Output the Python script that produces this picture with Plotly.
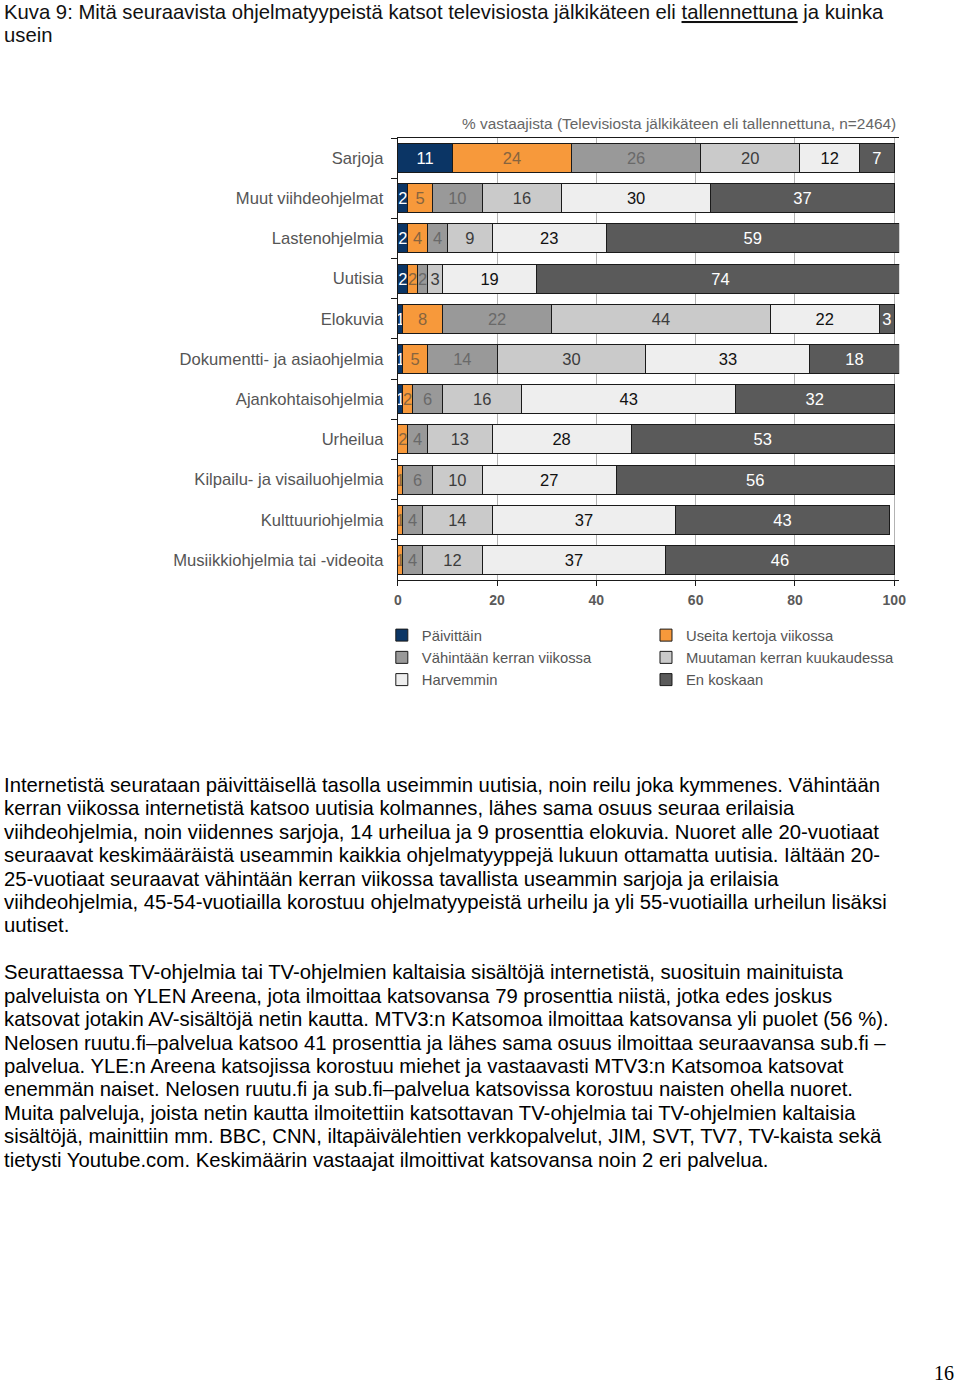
import plotly.graph_objects as go

categories = [
    "Sarjoja",
    "Muut viihdeohjelmat",
    "Lastenohjelmia",
    "Uutisia",
    "Elokuvia",
    "Dokumentti- ja asiaohjelmia",
    "Ajankohtaisohjelmia",
    "Urheilua",
    "Kilpailu- ja visailuohjelmia",
    "Kulttuuriohjelmia",
    "Musiikkiohjelmia tai -videoita",
]

series_names = [
    "Päivittäin",
    "Useita kertoja viikossa",
    "Vähintään kerran viikossa",
    "Muutaman kerran kuukaudessa",
    "Harvemmin",
    "En koskaan",
]

paivittain = [11, 2, 2, 2, 1, 1, 1, 0, 0, 0, 0]
useita = [24, 5, 4, 2, 8, 5, 2, 2, 1, 1, 1]
vahintaan = [26, 10, 4, 2, 22, 14, 6, 4, 6, 4, 4]
muutaman = [20, 16, 9, 3, 44, 30, 16, 13, 10, 14, 12]
harvemmin = [12, 30, 23, 19, 22, 33, 43, 28, 27, 37, 37]
en_koskaan = [7, 37, 59, 74, 3, 18, 32, 53, 56, 43, 46]

series_values = [paivittain, useita, vahintaan, muutaman, harvemmin, en_koskaan]
x_ticks = [0, 20, 40, 60, 80, 100]

title_lines = [
    "Kuva 9: Mitä seuraavista ohjelmatyypeistä katsot televisiosta jälkikäteen eli <u>tallennettuna</u> ja kuinka",
    "usein",
]
subtitle = "% vastaajista (Televisiosta jälkikäteen eli tallennettuna, n=2464)"

para1_lines = [
    "Internetistä seurataan päivittäisellä tasolla useimmin uutisia, noin reilu joka kymmenes. Vähintään",
    "kerran viikossa internetistä katsoo uutisia kolmannes, lähes sama osuus seuraa erilaisia",
    "viihdeohjelmia, noin viidennes sarjoja, 14 urheilua ja 9 prosenttia elokuvia. Nuoret alle 20-vuotiaat",
    "seuraavat keskimääräistä useammin kaikkia ohjelmatyyppejä lukuun ottamatta uutisia. Iältään 20-",
    "25-vuotiaat seuraavat vähintään kerran viikossa tavallista useammin sarjoja ja erilaisia",
    "viihdeohjelmia, 45-54-vuotiailla korostuu ohjelmatyypeistä urheilu ja yli 55-vuotiailla urheilun lisäksi",
    "uutiset.",
]
para2_lines = [
    "Seurattaessa TV-ohjelmia tai TV-ohjelmien kaltaisia sisältöjä internetistä, suosituin mainituista",
    "palveluista on YLEN Areena, jota ilmoittaa katsovansa 79 prosenttia niistä, jotka edes joskus",
    "katsovat jotakin AV-sisältöjä netin kautta. MTV3:n Katsomoa ilmoittaa katsovansa yli puolet (56 %).",
    "Nelosen ruutu.fi–palvelua katsoo 41 prosenttia ja lähes sama osuus ilmoittaa seuraavansa sub.fi –",
    "palvelua. YLE:n Areena katsojissa korostuu miehet ja vastaavasti MTV3:n Katsomoa katsovat",
    "enemmän naiset. Nelosen ruutu.fi ja sub.fi–palvelua katsovissa korostuu naisten ohella nuoret.",
    "Muita palveluja, joista netin kautta ilmoitettiin katsottavan TV-ohjelmia tai TV-ohjelmien kaltaisia",
    "sisältöjä, mainittiin mm. BBC, CNN, iltapäivälehtien verkkopalvelut, JIM, SVT, TV7, TV-kaista sekä",
    "tietysti Youtube.com. Keskimäärin vastaajat ilmoittivat katsovansa noin 2 eri palvelua.",
]
page_number = "16"

colors = ["#0b3565", "#f7993b", "#999999", "#cacaca", "#eeeeee", "#5a5a5a"]
text_colors = ["#ffffff", "#86643f", "#696969", "#3c3c3c", "#111111", "#ffffff"]
legend_ids = ["legend", "legend2", "legend", "legend2", "legend", "legend2"]

FONT = "Liberation Sans, Arial, Helvetica, sans-serif"
REF_W, H = 960, 1387
W = 968


def px_x(p):
    return p / REF_W


def px_y(p):
    return 1 - p / H


fig = go.Figure()
for name, vals, col, tcol, lg in zip(series_names, series_values, colors, text_colors, legend_ids):
    fig.add_trace(go.Bar(
        y=categories,
        x=vals,
        name=name,
        orientation="h",
        marker=dict(color=col, line=dict(color="#1a1a1a", width=1)),
        text=[str(v) if v else "" for v in vals],
        textposition="inside",
        insidetextanchor="middle",
        textangle=0,
        constraintext="none",
        textfont=dict(family=FONT, size=16.5, color=tcol),
        legend=lg,
        hoverinfo="skip",
    ))

fig.update_layout(
    width=W,
    height=H,
    autosize=False,
    margin=dict(l=0, r=0, t=0, b=0),
    paper_bgcolor="white",
    plot_bgcolor="white",
    barmode="stack",
    bargap=0.28,
    font=dict(family=FONT, color="#555555"),
    xaxis=dict(
        domain=[px_x(395), px_x(898)],
        range=[0, 101],
        tickvals=x_ticks,
        ticktext=[str(t) for t in x_ticks],
        showgrid=True,
        gridcolor="#b3b3b3",
        gridwidth=1,
        zeroline=False,
        showline=True,
        linecolor="#1a1a1a",
        linewidth=1,
        mirror=True,
        ticks="outside",
        ticklen=5,
        tickcolor="#1a1a1a",
        tickfont=dict(family=FONT, size=14, color="#5a5a5a", weight="bold"),
        ticklabelstandoff=2,
    ),
    yaxis=dict(
        domain=[px_y(580), px_y(138)],
        type="category",
        autorange="reversed",
        showgrid=False,
        zeroline=False,
        showline=True,
        linecolor="#1a1a1a",
        linewidth=1,
        ticks="outside",
        tickson="boundaries",
        ticklen=6,
        tickcolor="#1a1a1a",
        tickfont=dict(family=FONT, size=16.6, color="#555555"),
        ticklabelstandoff=10,
    ),
    legend=dict(
        x=px_x(379), y=px_y(619), xanchor="left", yanchor="top",
        orientation="v", traceorder="normal",
        font=dict(family=FONT, size=14.8, color="#555555"),
        bgcolor="rgba(0,0,0,0)", borderwidth=0,
    ),
    legend2=dict(
        x=px_x(644), y=px_y(619), xanchor="left", yanchor="top",
        orientation="v", traceorder="normal",
        font=dict(family=FONT, size=14.8, color="#555555"),
        bgcolor="rgba(0,0,0,0)", borderwidth=0,
    ),
    showlegend=True,
)


def add_lines(lines, centers, size, color="#000000"):
    for txt, cy in zip(lines, centers):
        fig.add_annotation(text=txt, x=0, y=px_y(cy), xref="paper", yref="paper",
                           xanchor="left", yanchor="middle", align="left", showarrow=False,
                           xshift=-2,
                           font=dict(family=FONT, size=size, color=color))


title_centers = [12, 35]
para1_centers = [785, 808, 832, 855, 879, 902, 925]
para2_centers = [972, 996, 1019, 1043, 1066, 1089, 1113, 1136, 1160]

add_lines(title_lines, title_centers, 20.3, "#111111")
add_lines(para1_lines, para1_centers, 20.3)
add_lines(para2_lines, para2_centers, 20.3)

fig.add_annotation(text=subtitle,
                   x=px_x(897), y=px_y(123), xref="paper", yref="paper",
                   xanchor="right", yanchor="middle", showarrow=False,
                   font=dict(family=FONT, size=15.4, color="#666666"))
fig.add_annotation(text=page_number, x=px_x(955), y=px_y(1386), xref="paper", yref="paper",
                   xanchor="right", yanchor="bottom", showarrow=False,
                   font=dict(family="Liberation Serif, Times New Roman, serif", size=20, color="#000000"))

fig.write_html(
    "out.html",
    config={"displayModeBar": False, "responsive": False},
    post_script=(
        "document.body.style.margin='0px';"
        "document.body.style.overflow='hidden';"
        "document.documentElement.style.overflow='hidden';"
    ),
)
